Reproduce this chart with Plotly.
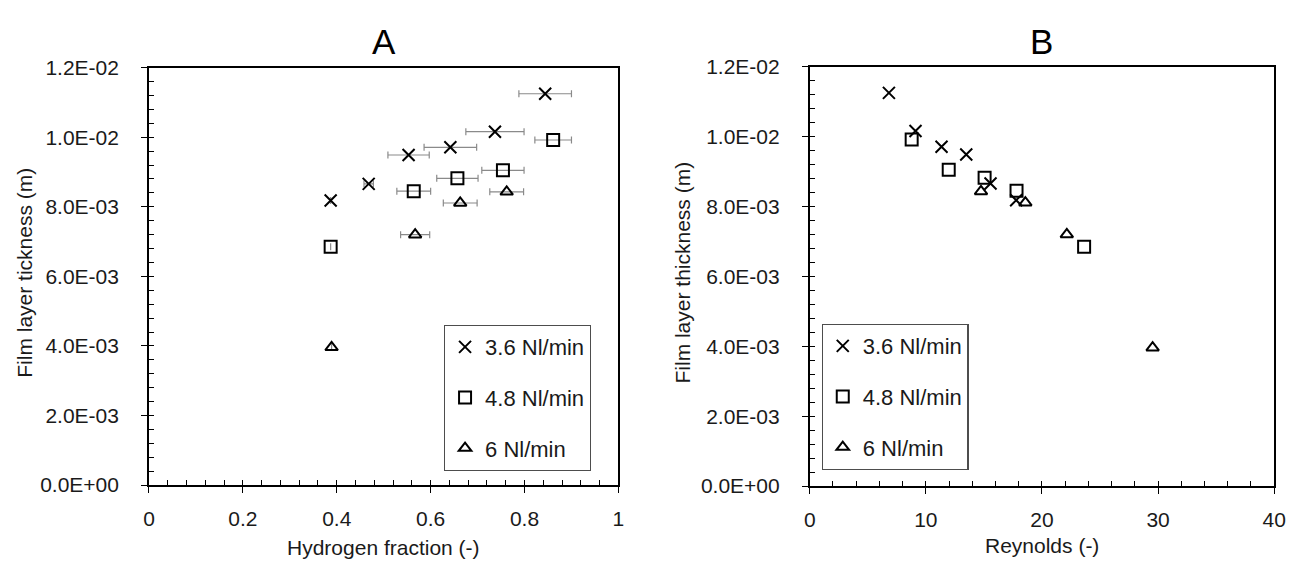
import plotly.graph_objects as go

# Measured film layer thickness (m) for three gas flow rates,
# versus hydrogen fraction (-) with its uncertainty and versus Reynolds number (-).
h2_36 = [0.387, 0.468, 0.553, 0.642, 0.737, 0.844]
h2_36_err = [0.0, 0.010, 0.044, 0.056, 0.062, 0.056]
re_36 = [17.78, 15.57, 13.48, 11.35, 9.11, 6.82]
film_36 = [0.00818, 0.00866, 0.00949, 0.00971, 0.01016, 0.01125]

h2_48 = [0.387, 0.564, 0.657, 0.754, 0.861]
h2_48_err = [0.0, 0.036, 0.044, 0.045, 0.039]
re_48 = [23.63, 17.81, 15.06, 11.97, 8.78]
film_48 = [0.00685, 0.00845, 0.00882, 0.00905, 0.00992]

h2_60 = [0.389, 0.567, 0.663, 0.762]
h2_60_err = [0.0, 0.031, 0.036, 0.036]
re_60 = [29.53, 22.14, 18.57, 14.75]
film_60 = [0.00396, 0.00720, 0.00811, 0.00843]

series_names = ["3.6 Nl/min", "4.8 Nl/min", "6 Nl/min"]

y_tickvals = [0.0, 0.002, 0.004, 0.006, 0.008, 0.010, 0.012]
y_ticktext = ["0.0E+00", "2.0E-03", "4.0E-03", "6.0E-03", "8.0E-03", "1.0E-02", "1.2E-02"]
xa_tickvals = [0.0, 0.2, 0.4, 0.6, 0.8, 1.0]
xa_ticktext = ["0", "0.2", "0.4", "0.6", "0.8", "1"]
xb_tickvals = [0, 10, 20, 30, 40]
xb_ticktext = ["0", "10", "20", "30", "40"]

W, H = 1301, 570
FONT = "Liberation Sans, Arial, sans-serif"
INK = "#1a1a1a"


def fx(p):
    return p / W


def fy(p):
    return 1 - p / H


# plot-area boxes in pixels: left, right, top, bottom
A_BOX = (145, 621, 58, 493)
B_BOX = (815, 1286, 57, 494)

symbols = ["x-thin-open", "square-open", "triangle-up-open"]
sizes = [12, 12, 11]
widths = [2.0, 2.0, 2.0]

fig = go.Figure()

a_sets = [(h2_36, h2_36_err, film_36), (h2_48, h2_48_err, film_48), (h2_60, h2_60_err, film_60)]
b_sets = [(re_36, film_36), (re_48, film_48), (re_60, film_60)]

for i, (hx, he, fy_) in enumerate(a_sets):
    fig.add_trace(go.Scatter(
        x=hx, y=fy_, mode="markers", name=series_names[i],
        xaxis="x", yaxis="y", legend="legend", legendgroup=f"a{i}",
        marker=dict(symbol=symbols[i], size=sizes[i], color="black",
                    line=dict(color="black", width=widths[i])),
        error_x=dict(type="data", array=he, visible=True, color="#8a8a8a",
                     thickness=1.2, width=3.5),
        showlegend=True,
    ))

for i, (rx, fy_) in enumerate(b_sets):
    fig.add_trace(go.Scatter(
        x=rx, y=fy_, mode="markers", name=series_names[i],
        xaxis="x2", yaxis="y2", legend="legend2", legendgroup=f"b{i}",
        marker=dict(symbol=symbols[i], size=sizes[i], color="black",
                    line=dict(color="black", width=widths[i])),
        showlegend=True,
    ))

# empty traces that carry the inward half of the major ticks
fig.add_trace(go.Scatter(x=[], y=[], xaxis="x3", yaxis="y3", showlegend=False))
fig.add_trace(go.Scatter(x=[], y=[], xaxis="x4", yaxis="y4", showlegend=False))

tickfont = dict(family=FONT, size=21, color=INK)


def main_x(box, rng, tv, tt, minor_dtick, anchor):
    return dict(
        domain=[fx(box[0]), fx(box[1])], range=rng, anchor=anchor,
        tickmode="array", tickvals=tv, ticktext=tt, tickfont=tickfont,
        ticks="outside", ticklen=6, tickwidth=1.3, tickcolor="black",
        ticklabelstandoff=8,
        minor=dict(ticks="inside", ticklen=5, tickwidth=1.2, tickcolor="black",
                   dtick=minor_dtick, tick0=0),
        showline=True, linecolor="black", linewidth=1.6, mirror=True,
        showgrid=False, zeroline=False, fixedrange=True,
    )


def main_y(box, anchor):
    return dict(
        domain=[fy(box[3]), fy(box[2])], range=[0, 0.012], anchor=anchor,
        tickmode="array", tickvals=y_tickvals, ticktext=y_ticktext, tickfont=tickfont,
        ticks="outside", ticklen=6, tickwidth=1.3, tickcolor="black",
        ticklabelstandoff=18,
        minor=dict(ticks="inside", ticklen=5, tickwidth=1.2, tickcolor="black",
                   dtick=0.0004, tick0=0),
        showline=True, linecolor="black", linewidth=1.6, mirror=True,
        showgrid=False, zeroline=False, fixedrange=True,
    )


def inner_x(rng, tv, over, anchor):
    return dict(overlaying=over, anchor=anchor, range=rng, tickmode="array", tickvals=tv,
                showticklabels=False, ticks="inside", ticklen=5, tickwidth=1.3,
                tickcolor="black", showline=False, showgrid=False, zeroline=False,
                fixedrange=True)


def inner_y(over, anchor):
    return dict(overlaying=over, anchor=anchor, range=[0, 0.012], tickmode="array",
                tickvals=y_tickvals, showticklabels=False, ticks="inside", ticklen=5,
                tickwidth=1.3, tickcolor="black", showline=False, showgrid=False,
                zeroline=False, fixedrange=True, side="left")


legend_common = dict(
    xanchor="left", yanchor="top", bgcolor="white", bordercolor="#4d4d4d", borderwidth=1.2,
    font=dict(family=FONT, size=22, color=INK), traceorder="grouped", tracegroupgap=19,
    itemclick=False, itemdoubleclick=False,
)

fig.update_layout(
    width=W, height=H,
    margin=dict(l=0, r=0, t=0, b=0),
    paper_bgcolor="white", plot_bgcolor="white",
    xaxis=main_x(A_BOX, [0, 1], xa_tickvals, xa_ticktext, 0.04, "y"),
    yaxis=main_y(A_BOX, "x"),
    xaxis2=main_x(B_BOX, [0, 40], xb_tickvals, xb_ticktext, 2, "y2"),
    yaxis2=main_y(B_BOX, "x2"),
    xaxis3=inner_x([0, 1], xa_tickvals, "x", "y3"),
    yaxis3=inner_y("y", "x3"),
    xaxis4=inner_x([0, 40], xb_tickvals, "x2", "y4"),
    yaxis4=inner_y("y2", "x4"),
    legend=dict(x=fx(444), y=fy(326), **legend_common),
    legend2=dict(x=fx(827), y=fy(325), **legend_common),
    showlegend=True,
)

titlefont = dict(family=FONT, size=21, color=INK)
annotations = [
    dict(text="A", x=fx((A_BOX[0] + A_BOX[1]) / 2), y=fy(31), font=dict(family=FONT, size=35, color="black")),
    dict(text="B", x=fx((B_BOX[0] + B_BOX[1]) / 2), y=fy(31), font=dict(family=FONT, size=35, color="black")),
    dict(text="Hydrogen fraction (-)", x=fx((A_BOX[0] + A_BOX[1]) / 2), y=fy(558), font=titlefont),
    dict(text="Reynolds (-)", x=fx((B_BOX[0] + B_BOX[1]) / 2), y=fy(556), font=titlefont),
    dict(text="Film layer tickness (m)", x=fx(18), y=fy(272), textangle=-90, font=titlefont),
    dict(text="Film layer thickness (m)", x=fx(686), y=fy(272), textangle=-90, font=titlefont),
]
for a in annotations:
    a.update(xref="paper", yref="paper", showarrow=False, xanchor="center", yanchor="middle")
fig.update_layout(annotations=annotations)

fig.write_html("out.html")
